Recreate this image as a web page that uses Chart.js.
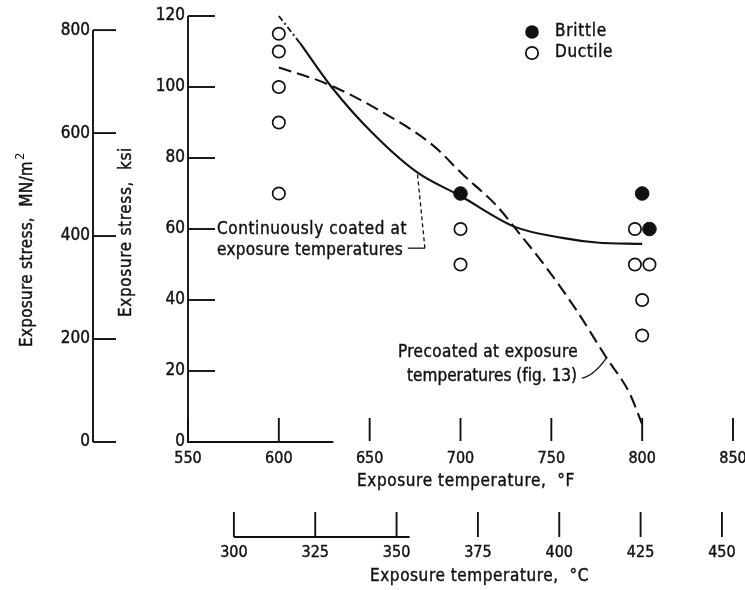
<!DOCTYPE html>
<html><head><meta charset="utf-8">
<script src="https://cdn.jsdelivr.net/npm/chart.js@4.4.0/dist/chart.umd.min.js"></script>
<style>html,body{margin:0;padding:0;background:#fff}#wrap{width:745px;height:590px}</style>
</head><body><div id="wrap"><canvas id="c" width="745" height="590"></canvas></div>
<script>
const FONT = "'DejaVu Sans Condensed','Liberation Sans Narrow',sans-serif";
const INK = '#111';

// tick labels
const fTicks = [550, 600, 650, 700, 750, 800, 850];
const cTicks = [300, 325, 350, 375, 400, 425, 450];
const ksiTicks = [0, 20, 40, 60, 80, 100, 120];
const mnTicks = [0, 200, 400, 600, 800];

// test points (temperature °F, stress ksi)
const brittleF   = [700, 800, 804];
const brittleKsi = [70, 70, 60];
const ductileF   = [600, 600, 600, 600, 600, 700, 700, 796, 796, 804, 800, 800];
const ductileKsi = [115, 110, 100, 90, 70, 60, 50, 60, 50, 50, 40, 30];

// continuously coated curve (solid) and its chained start
const chainF   = [600, 611.6];
const chainKsi = [120, 112.4];
const contF    = [611.6, 629, 651, 676, 700, 730, 756, 775, 800];
const contKsi  = [112.4, 100, 87.3, 76, 69.3, 60.6, 57.5, 56.2, 55.8];

// precoated curve (long dashes)
const preF   = [600, 626, 655, 685, 701, 720, 732, 747, 764, 780, 793, 800];
const preKsi = [105.5, 101, 93.5, 83.5, 75.5, 66.5, 59, 49.3, 37, 24, 13.8, 5];

// axis conversion bounds
const F_MIN = 550, F_MAX = 850, KSI_MAX = 120;
const C_MIN = 285.9, C_MAX = 453.4;
const MN_MAX = KSI_MAX * 6.895;

const pts = (xs, ys) => xs.map((x, i) => ({x, y: ys[i]}));

function fitText(ctx, text, x, y, width, size) {
  ctx.font = size + 'px ' + FONT;
  ctx.letterSpacing = '0px';
  const w = ctx.measureText(text).width;
  let ls = (width - w) / text.length;
  ls = Math.max(-1.5, Math.min(3, ls));
  ctx.letterSpacing = ls + 'px';
  ctx.textAlign = 'left';
  ctx.textBaseline = 'middle';
  ctx.fillText(text, x, y);
  ctx.lineWidth = 0.4; ctx.strokeText(text, x, y);
  const out = ctx.measureText(text).width;
  ctx.letterSpacing = '0px';
  return out;
}
function seg(ctx, p) {
  ctx.beginPath();
  ctx.moveTo(p[0][0], p[0][1]);
  for (let i = 1; i < p.length; i++) ctx.lineTo(p[i][0], p[i][1]);
  ctx.stroke();
}

const overlay = {
  id: 'overlay',
  beforeDatasetsDraw(chart) {
    const {ctx} = chart;
    const X = chart.scales.x, Y = chart.scales.y, C = chart.scales.c, M = chart.scales.mn;
    ctx.save();
    ctx.strokeStyle = INK; ctx.lineWidth = 1.9; ctx.setLineDash([]);
    // ksi axis
    const ax = Y.right;
    seg(ctx, [[ax, Y.getPixelForValue(0) + 1], [ax, Y.getPixelForValue(120)]]);
    ksiTicks.forEach(v => { const p = Y.getPixelForValue(v); seg(ctx, [[ax, p], [ax + 27, p]]); });
    // MN axis
    const mx = M.right;
    seg(ctx, [[mx, M.getPixelForValue(0)], [mx, M.getPixelForValue(800)]]);
    mnTicks.forEach(v => { const p = M.getPixelForValue(v); seg(ctx, [[mx, p], [mx + 23, p]]); });
    // °F axis (partial baseline + upward ticks)
    const by = X.top;
    seg(ctx, [[X.getPixelForValue(550), by], [X.getPixelForValue(630), by]]);
    fTicks.forEach(v => { const p = X.getPixelForValue(v); seg(ctx, [[p, by - 1], [p, by - 24]]); });
    // °C axis
    const cy = C.top;
    seg(ctx, [[C.getPixelForValue(300), cy], [C.getPixelForValue(354), cy]]);
    cTicks.forEach(v => { const p = C.getPixelForValue(v); seg(ctx, [[p, cy], [p, cy - 25]]); });
    ctx.restore();
  },
  afterDraw(chart) {
    const {ctx} = chart;
    const X = chart.scales.x, Y = chart.scales.y;
    const px = v => X.getPixelForValue(v), py = v => Y.getPixelForValue(v);
    ctx.save();
    ctx.fillStyle = INK; ctx.strokeStyle = INK;

    // axis titles
    fitText(ctx, 'Exposure temperature,  \u00B0F', 357, 482, 218, 17);
    fitText(ctx, 'Exposure temperature,  \u00B0C', 370, 577, 219, 17);
    ctx.save();
    ctx.translate(127, 317); ctx.rotate(-Math.PI / 2);
    fitText(ctx, 'Exposure stress,  ksi', 0, 0, 170, 17);
    ctx.restore();
    ctx.save();
    ctx.translate(28, 347); ctx.rotate(-Math.PI / 2);
    const w = fitText(ctx, 'Exposure stress,  MN/m', 0, 0, 186, 17);
    ctx.font = '13px ' + FONT; ctx.textBaseline = 'middle';
    ctx.fillText('2', w + 1, -7);
    ctx.restore();

    // legend
    const lx = 532, ly1 = 32, ly2 = 53;
    ctx.lineWidth = 1.7;
    ctx.beginPath(); ctx.arc(lx, ly1, 6.8, 0, Math.PI * 2); ctx.fillStyle = INK; ctx.fill();
    ctx.beginPath(); ctx.arc(lx, ly2, 6.2, 0, Math.PI * 2); ctx.fillStyle = '#fff'; ctx.fill(); ctx.stroke();
    ctx.fillStyle = INK;
    fitText(ctx, 'Brittle', 555, ly1, 52, 17);
    fitText(ctx, 'Ductile', 555, ly2, 58, 17);

    // annotation: continuously coated
    fitText(ctx, 'Continuously coated at', 217, 230, 190, 17);
    fitText(ctx, 'exposure temperatures', 217, 251, 186, 17);
    ctx.lineWidth = 1.3;
    seg(ctx, [[px(671), py(54.6)], [px(680.4), py(54.6)]]);
    ctx.setLineDash([4, 3]);
    seg(ctx, [[px(680.4), py(54.6)], [px(676.3), py(75.6)]]);
    ctx.setLineDash([]);

    // annotation: precoated
    fitText(ctx, 'Precoated at exposure', 398, 353, 180, 17);
    fitText(ctx, 'temperatures (fig. 13)', 407, 377, 170, 17);
    ctx.lineWidth = 1.3;
    ctx.beginPath();
    ctx.moveTo(px(766.8), py(18));
    ctx.quadraticCurveTo(px(773.5), py(18.6), px(780.6), py(23.9));
    ctx.stroke();
    ctx.restore();
  }
};

const tickFont = {family: FONT, size: 17};
const tickFontX = {family: FONT, size: 16};
const tickStroke = {textStrokeColor: INK, textStrokeWidth: 0.4};
const hidden = {grid: {display: false, drawTicks: false}, border: {display: false}};
const noPadX = s => { s.paddingLeft = 0; s.paddingRight = 0; };
const noPadY = s => { s.paddingTop = 0; s.paddingBottom = 0; };

new Chart(document.getElementById('c'), {
  type: 'scatter',
  data: {
    datasets: [
      {label: 'chain', data: pts(chainF, chainKsi), showLine: true, pointRadius: 0,
       borderColor: INK, borderWidth: 1.9, borderDash: [6, 3, 2, 3], fill: false},
      {label: 'Continuously coated at exposure temperatures', data: pts(contF, contKsi), showLine: true,
       pointRadius: 0, borderColor: INK, borderWidth: 2.1, cubicInterpolationMode: 'monotone', fill: false},
      {label: 'Precoated at exposure temperatures (fig. 13)', data: pts(preF, preKsi), showLine: true,
       pointRadius: 0, borderColor: INK, borderWidth: 2.1, borderDash: [13, 6],
       cubicInterpolationMode: 'monotone', fill: false},
      {label: 'Brittle', data: pts(brittleF, brittleKsi), pointRadius: 6.8,
       backgroundColor: INK, borderColor: INK, borderWidth: 1},
      {label: 'Ductile', data: pts(ductileF, ductileKsi), pointRadius: 6.2,
       backgroundColor: '#fff', borderColor: INK, borderWidth: 1.7}
    ]
  },
  options: {
    responsive: false, animation: false, devicePixelRatio: 1,
    clip: false,
    layout: {padding: {left: 0, right: 12, top: 16, bottom: 0}},
    plugins: {legend: {display: false}, tooltip: {enabled: false}},
    scales: {
      x: Object.assign({type: 'linear', axis: 'x', position: 'bottom', weight: 0, min: F_MIN, max: F_MAX,
        afterBuildTicks: s => { s.ticks = fTicks.map(v => ({value: v})); },
        afterFit: s => { s.height = 95; noPadX(s); },
        ticks: Object.assign({font: tickFontX, color: INK, padding: 7, maxRotation: 0, autoSkip: false}, tickStroke)}, hidden),
      c: Object.assign({type: 'linear', axis: 'x', position: 'bottom', weight: 1, min: C_MIN, max: C_MAX,
        afterBuildTicks: s => { s.ticks = cTicks.map(v => ({value: v})); },
        afterFit: s => { s.height = 53; noPadX(s); },
        ticks: Object.assign({font: tickFontX, color: INK, padding: 6, maxRotation: 0, autoSkip: false}, tickStroke)}, hidden),
      y: Object.assign({type: 'linear', axis: 'y', position: 'left', weight: 0, min: 0, max: KSI_MAX,
        afterBuildTicks: s => { s.ticks = ksiTicks.map(v => ({value: v})); },
        afterFit: s => { s.width = 95; noPadY(s); },
        ticks: Object.assign({font: tickFont, color: INK, padding: 3}, tickStroke)}, hidden),
      mn: Object.assign({type: 'linear', axis: 'y', position: 'left', weight: 1, min: 0, max: MN_MAX,
        afterBuildTicks: s => { s.ticks = mnTicks.map(v => ({value: v})); },
        afterFit: s => { s.width = 93; noPadY(s); },
        ticks: Object.assign({font: tickFont, color: INK, padding: 3}, tickStroke)}, hidden)
    }
  },
  plugins: [overlay]
});
</script>
</body></html>
